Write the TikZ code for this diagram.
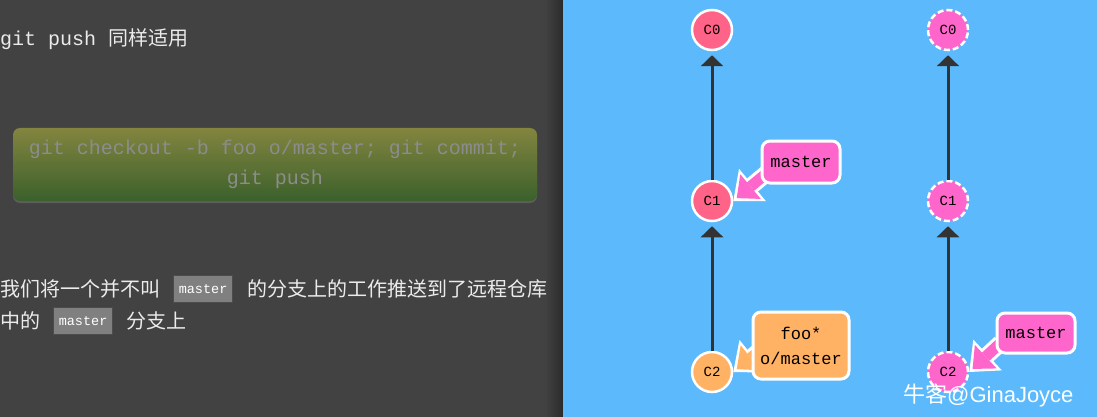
\documentclass[tikz,border=0pt]{standalone}
\usepackage{fontspec}
\setmonofont{Liberation Mono}
\newfontfamily\cjk{Noto Sans CJK SC}
\newfontfamily\wmfont{Liberation Sans}
\usepackage{xcolor}
\usepackage{tikz}
\usetikzlibrary{positioning, arrows.meta, shadows}

\definecolor{panelgray}{HTML}{424242}
\definecolor{panelblue}{HTML}{5CBAFC}
\definecolor{txtgray}{HTML}{EBEBEB}
\definecolor{cmdgray}{HTML}{8C8C8C}
\definecolor{olivetop}{HTML}{83853F}
\definecolor{greenbot}{HTML}{3B602C}
\definecolor{codegray}{HTML}{808080}
\definecolor{commitred}{HTML}{FF6387}
\definecolor{commitorange}{HTML}{FFB264}
\definecolor{branchpink}{HTML}{FF66CC}
\definecolor{edgegray}{HTML}{333333}

\pgfdeclarelayer{front}
\pgfsetlayers{main,front}

\begin{document}
\begin{tikzpicture}[x=1pt, y=1pt,
every node/.style={inner sep=0pt},
cjktext/.style={text=txtgray, font=\cjk\fontsize{20}{24}\selectfont, anchor=west},
codebox/.style={draw=black!70, fill=codegray, text=white, font=\ttfamily\fontsize{13.5}{15}\selectfont, minimum width=59pt, minimum height=27pt},
commit/.style={circle, draw=white, line width=2.5pt, minimum size=40pt, text=black, font=\ttfamily\fontsize{14}{15}\selectfont},
remote/.style={commit, dashed, dash pattern=on 6pt off 3pt, fill=branchpink},
commitedge/.style={draw=edgegray, line width=3pt, -{Triangle[width=22pt,length=11pt]}, shorten >=4pt},
branchtag/.style={rounded corners=8pt, draw=white, line width=3pt, text=black, align=center, font=\ttfamily\fontsize{17}{25}\selectfont, minimum width=78pt, minimum height=42pt},
tagout/.style={draw=white, line width=17pt, -{Triangle[width=42pt,length=25pt,line width=0pt]}},
tagin/.style={line width=11pt, -{Triangle[width=32pt,length=18pt,line width=0pt]}, shorten >=4.5pt}]

\useasboundingbox (0,0) rectangle (1097,-417);

% Two panels
\fill[panelgray] (0,0) rectangle (563,-417);
\fill[left color=panelgray, right color=panelgray!65!black] (545,0) rectangle (563,-417);
\fill[panelblue] (563,0) rectangle (1097,-417);

% Left panel: text and command
\node[anchor=west, text=txtgray, font=\ttfamily\fontsize{20}{24}\selectfont] (title) at (0,-39) {git push {\cjk 同样适用}};

\node[rounded corners=7pt, top color=olivetop, bottom color=greenbot, text=cmdgray, align=center,
  font=\ttfamily\fontsize{20}{30}\selectfont, minimum width=524pt, minimum height=73pt,
  drop shadow={shadow xshift=0pt, shadow yshift=-2pt, opacity=0.45}] (cmd) at (275,-164.5)
  {git checkout -b foo o/master; git commit;\\git push};

\node[cjktext] (p1a) at (0,-289) {我们将一个并不叫};
\node[codebox, right=13pt of p1a] (mb1) {master};
\node[cjktext, right=14pt of mb1] (p1b) {的分支上的工作推送到了远程仓库};

\node[cjktext] (p2a) at (0,-321) {中的};
\node[codebox, right=13pt of p2a] (mb2) {master};
\node[cjktext, right=13.5pt of mb2] (p2b) {分支上};

% Local repository
\node[commit, fill=commitred] (c0) at (712,-30) {C0};
\node[commit, fill=commitred] (c1) at (712,-201) {C1};
\node[commit, fill=commitorange] (c2) at (712,-372) {C2};
\draw[commitedge] (c1) -- (c0);
\draw[commitedge] (c2) -- (c1);

% Remote repository
\node[remote] (r0) at (948,-30) {C0};
\node[remote] (r1) at (948,-201) {C1};
\node[remote] (r2) at (948,-372) {C2};
\draw[commitedge] (r1) -- (r0);
\draw[commitedge] (r2) -- (r1);

% Branch tags
\begin{pgfonlayer}{front}
\node[branchtag, fill=branchpink] (mtag) at (801,-162) {master};
\node[branchtag, fill=commitorange, minimum width=96pt, minimum height=67pt] (ftag) at (801,-345.5) {foo*\\o/master};
\node[branchtag, fill=branchpink, minimum height=40pt] (rtag) at (1036,-333) {master};
\end{pgfonlayer}

\draw[tagout] ([shift={(10,-8)}]mtag.west) -- (c1.east);
\draw[tagin, draw=branchpink] ([shift={(10,-8)}]mtag.west) -- (c1.east);
\draw[tagout] ([shift={(12,-2)}]ftag.west) -- (c2.east);
\draw[tagin, draw=commitorange] ([shift={(12,-2)}]ftag.west) -- (c2.east);
\draw[tagout] ([shift={(5,-10)}]rtag.west) -- (r2.east);
\draw[tagin, draw=branchpink] ([shift={(5,-10)}]rtag.west) -- (r2.east);

% Watermark
\node[anchor=west, text=white, font=\fontsize{22}{26}\selectfont] (mark) at (903,-395) {{\cjk 牛客}{\wmfont @GinaJoyce}};
\end{tikzpicture}
\end{document}
